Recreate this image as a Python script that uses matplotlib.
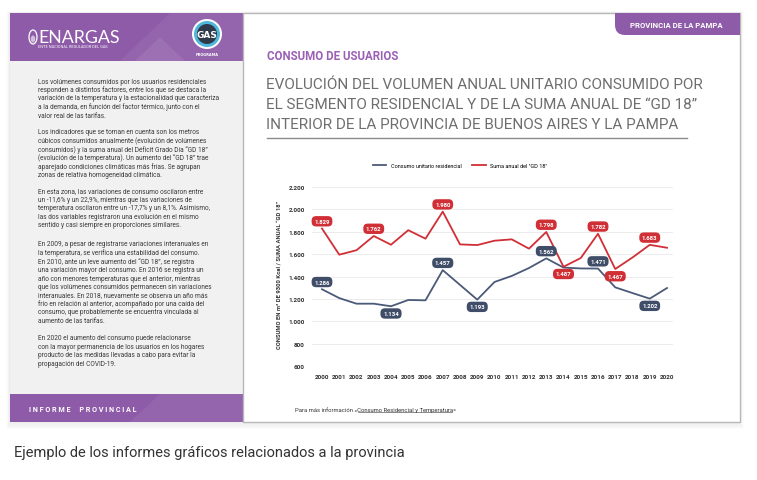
import matplotlib
matplotlib.use("Agg")
import matplotlib.pyplot as plt
from matplotlib.patches import Rectangle, FancyBboxPatch, Circle, Ellipse, Polygon
from matplotlib.lines import Line2D

# ---- data -------------------------------------------------------------
years = list(range(2000, 2021))
consumo = [1286, 1207, 1157, 1157, 1134, 1190, 1187, 1457, 1325, 1193, 1351,
           1405, 1476, 1562, 1480, 1472, 1471, 1303, 1252, 1202, 1297]
gd18 = [1829, 1595, 1635, 1762, 1684, 1814, 1738, 1980, 1687, 1681, 1720,
        1732, 1649, 1798, 1487, 1565, 1782, 1467, 1570, 1683, 1657]
# years with a value tag: +1 tag above the point, -1 below
consumo_tags = {2000: 1, 2004: -1, 2007: 1, 2009: -1, 2013: 1, 2016: 1, 2019: -1}
gd18_tags = {2000: 1, 2003: 1, 2007: 1, 2013: 1, 2014: -1, 2016: 1, 2017: -1, 2019: 1}
yticks = [600, 800, 1000, 1200, 1400, 1600, 1800, 2000, 2200]
series_names = ["Consumo unitario residencial", "Suma anual del \"GD 18\""]

title_lines = ["EVOLUCIÓN DEL VOLUMEN ANUAL UNITARIO CONSUMIDO POR",
               "EL SEGMENTO RESIDENCIAL Y DE LA SUMA ANUAL DE “GD 18”",
               "INTERIOR DE LA PROVINCIA DE BUENOS AIRES Y LA PAMPA"]

paragraphs = [
    ["Los volúmenes consumidos por los usuarios residenciales",
     "responden a distintos factores, entre los que se destaca la",
     "variación de la temperatura y la estacionalidad que caracteriza",
     "a la demanda, en función del factor térmico, junto con el",
     "valor real de las tarifas."],
    ["Los indicadores que se toman en cuenta son los metros",
     "cúbicos consumidos anualmente (evolución de volúmenes",
     "consumidos) y la suma anual del Déficit Grado Día “GD 18”",
     "(evolución de la temperatura). Un aumento del “GD 18” trae",
     "aparejado condiciones climáticas más frías. Se agrupan",
     "zonas de relativa homogeneidad climática."],
    ["En esta zona, las variaciones de consumo oscilaron entre",
     "un -11,6% y un 22,9%, mientras que las variaciones de",
     "temperatura oscilaron entre un -17,7% y un 8,1%. Asimismo,",
     "las dos variables registraron una evolución en el mismo",
     "sentido y casi siempre en proporciones similares."],
    ["En 2009, a pesar de registrarse variaciones interanuales en",
     "la temperatura, se verifica una estabilidad del consumo.",
     "En 2010, ante un leve aumento del “GD 18”, se registra",
     "una variación mayor del consumo. En 2016 se registra un",
     "año con menores temperaturas que el anterior, mientras",
     "que los volúmenes consumidos permanecen sin variaciones",
     "interanuales. En 2018, nuevamente se observa un año más",
     "frío en relación al anterior, acompañado por una caída del",
     "consumo, que probablemente se encuentra vinculada al",
     "aumento de las tarifas."],
    ["En 2020 el aumento del consumo puede relacionarse",
     "con la mayor permanencia de los usuarios en los hogares",
     "producto de las medidas llevadas a cabo para evitar la",
     "propagación del COVID-19."],
]
para_y = [82, 133, 192, 245, 339]

W, H = 757, 481
PURPLE = "#8e5ba8"
BLUE = "#3f4d68"
RED = "#d12f36"
COND = ["Roboto", "DejaVu Sans"]

fig = plt.figure(figsize=(W / 100, H / 100), dpi=100)

# background layer in pixel coordinates
bg = fig.add_axes([0, 0, 1, 1])
bg.set_xlim(0, W)
bg.set_ylim(H, 0)
bg.axis("off")

# soft shadow round the card
for i in range(1, 7):
    bg.add_patch(Rectangle((10 - i * 0.6, 14 - i * 0.3), 730 + i * 1.2, 409 + i * 1.5,
                           facecolor="k", alpha=0.012, lw=0))

# left panel
bg.add_patch(Rectangle((10, 14), 233, 409, facecolor="#f1f1f1", lw=0))
bg.add_patch(Rectangle((10, 14), 233, 48, facecolor=PURPLE, lw=0))
bg.add_patch(Polygon([(120, 62), (170, 14), (243, 14), (243, 62)], facecolor="w", alpha=0.06, lw=0))
bg.add_patch(Polygon([(135, 62), (160, 38), (185, 62)], facecolor="w", alpha=0.08, lw=0))
bg.add_patch(Rectangle((10, 395), 233, 28, facecolor=PURPLE, lw=0))
bg.add_patch(Polygon([(130, 423), (160, 395), (243, 395), (243, 423)], facecolor="w", alpha=0.06, lw=0))

# right card
bg.add_patch(Rectangle((243, 14), 497, 409, facecolor="w", edgecolor="#b8b8b8", lw=1))

# province tab
bg.add_patch(FancyBboxPatch((615, 14), 125, 22, boxstyle="round,pad=0,rounding_size=10",
                            facecolor=PURPLE, lw=0))
bg.add_patch(Rectangle((615, 14), 125, 11, facecolor=PURPLE, lw=0))
bg.add_patch(Rectangle((725, 14), 15, 22, facecolor=PURPLE, lw=0))
bg.text(676, 25.5, "PROVINCIA DE LA PAMPA", color="w", fontsize=5.6, fontweight="bold",
        family=COND, ha="center", va="center")

# ENARGAS logo
bg.add_patch(Ellipse((33, 38), 8, 14, facecolor="none", edgecolor="w", lw=0.9))
bg.add_patch(Ellipse((33, 40), 4.5, 7, facecolor="w", alpha=0.6, lw=0))
bg.text(38, 38, "ENARGAS", color="w", fontsize=12.8, family=["Lato", "DejaVu Sans"],
        ha="left", va="center")
bg.text(38, 47.5, "ENTE NACIONAL REGULADOR DEL GAS", color="w", fontsize=2.8,
        family=COND, ha="left", va="center")
bg.add_patch(Circle((207, 35), 15, facecolor="w", lw=0))
bg.add_patch(Circle((207, 35), 13, facecolor="#4fb7dc", lw=0))
bg.add_patch(Circle((207, 35), 10, facecolor="#2e3a4a", lw=0))
bg.text(207, 36, "GAS", color="w", fontsize=6.5, fontweight="bold", ha="center", va="center")
bg.text(207, 55, "PROGRAMA", color="w", fontsize=2.5, fontweight="bold", ha="center", va="center")

# left column text, one line at a time so the spacing stays even
for lines, y in zip(paragraphs, para_y):
    for k, line in enumerate(lines):
        bg.text(38, y + 8.5 * k, line, color="#3a3a3a", fontsize=4.7, family=COND,
                ha="left", va="center")
bg.text(29, 410, "I N F O R M E     P R O V I N C I A L", color="w", fontsize=5.2,
        fontweight="bold", family=COND, ha="left", va="center")

# headings
bg.text(267, 57, "CONSUMO DE USUARIOS", color="#9b5fb5", fontsize=8.3, fontweight="bold",
        family=COND, ha="left", va="center")
for k, line in enumerate(title_lines):
    bg.text(266, 89 + 20 * k, line, color="#6e6e6e", fontsize=11, family=COND,
            ha="left", va="baseline")
bg.add_line(Line2D([267, 687], [139, 139], color="#8a8a8a", lw=1))

# footer note
note = bg.text(295, 410, "Para más información «Consumo Residencial y Temperatura»",
               color="#333333", fontsize=4.2, family=COND, ha="left", va="center")
bg.text(14, 453, "Ejemplo de los informes gráficos relacionados a la provincia",
        color="#333333", fontsize=10.5, family=["Roboto"], ha="left", va="center")

# ---- chart ------------------------------------------------------------
x0, x1, y0, y1 = 312, 673, 188, 367
ax = fig.add_axes([x0 / W, 1 - y1 / H, (x1 - x0) / W, (y1 - y0) / H])
step = (667 - 322) / 20
ax.set_xlim(2000 - (322 - x0) / step, 2020 + (x1 - 667) / step)
ax.set_ylim(600, 2200)
ax.patch.set_alpha(0)
for s in ax.spines.values():
    s.set_visible(False)
ax.set_yticks(yticks)
ax.set_yticklabels([f"{v:,}".replace(",", ".") for v in yticks])
ax.set_xticks(years)
ax.tick_params(length=0, labelsize=4.6, colors="#333333", pad=6)
ax.tick_params(axis="y", pad=5)
for lab in ax.get_xticklabels() + ax.get_yticklabels():
    lab.set_family(COND)
    lab.set_fontweight("bold")
ax.grid(axis="y", color="#ececec", lw=0.7)
ax.set_axisbelow(True)

ax.plot(years, consumo, color="#4b5a78", lw=1.3, label=series_names[0])
ax.plot(years, gd18, color=RED, lw=1.3, label=series_names[1])


def tag(vals, tags, color):
    for yr, side in tags.items():
        v = vals[years.index(yr)]
        ax.annotate(f"{v:,}".replace(",", "."), (yr, v), xytext=(0, 5.2 * side),
                    textcoords="offset points", ha="center", va="center",
                    fontsize=4.3, fontweight="bold", color="w", family=COND,
                    bbox=dict(boxstyle="round,pad=0.45,rounding_size=0.75",
                              fc=color, ec="none"))


tag(consumo, consumo_tags, BLUE)
tag(gd18, gd18_tags, RED)

ax.legend(loc="center", bbox_to_anchor=(460 / W, 1 - 166 / H), bbox_transform=fig.transFigure,
          ncol=2, frameon=False, handlelength=2.4, columnspacing=2.0,
          prop={"family": COND, "size": 4})
fig.text(279 / W, 1 - 275 / H, "CONSUMO EN m³ DE 9300 Kcal / SUMA ANUAL “GD 18”",
         rotation=90, fontsize=4.2, fontweight="bold", family=COND, color="#333333",
         ha="center", va="center")

# underline the link part of the note
fig.canvas.draw()
r = fig.canvas.get_renderer()
full_w = note.get_window_extent(r).width
lead = bg.text(0, 0, "Para más información «", fontsize=4.2, family=COND)
lead_w = lead.get_window_extent(r).width
lead.remove()
bg.add_line(Line2D([295 + lead_w + 0.5, 295 + full_w - 3.5], [412.7, 412.7],
                   color="#333333", lw=0.4))

fig.savefig("out.png", dpi=100)
